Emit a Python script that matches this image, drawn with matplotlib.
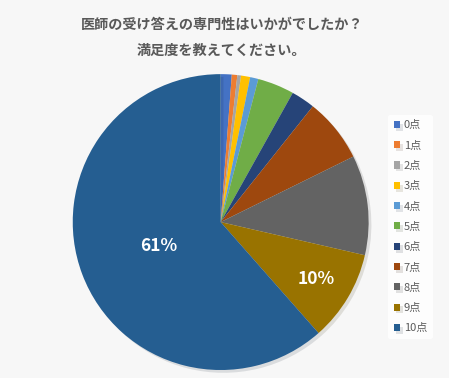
import matplotlib
matplotlib.use("Agg")
import matplotlib.pyplot as plt
import matplotlib.patheffects as pe
import numpy as np

plt.rcParams['font.family'] = ['Noto Sans CJK JP', 'DejaVu Sans']

labels = ['0点', '1点', '2点', '3点', '4点', '5点', '6点', '7点', '8点', '9点', '10点']
values = [1.2, 0.6, 0.4, 1.0, 0.9, 4.0, 2.6, 7.0, 10.9, 9.9, 61.5]
shown = ['', '', '', '', '', '', '', '', '', '10%', '61%']
colors = ['#4472C4', '#ED7D31', '#A5A5A5', '#FFC000', '#5B9BD5', '#70AD47',
          '#264478', '#9E480E', '#636363', '#997300', '#255E91']

fig = plt.figure(figsize=(4.49, 3.78), dpi=100, facecolor='#f7f7f7')
ax = fig.add_axes([0.162, 0.021, 0.659, 0.783])

wedges, _ = ax.pie(values, colors=colors, startangle=90, counterclock=False,
                   wedgeprops=dict(linewidth=0))
for w in wedges:
    w.set_path_effects([pe.SimplePatchShadow(offset=(2, -2), alpha=0.12), pe.Normal()])

# percent labels for the two biggest slices
for w, txt in zip(wedges, shown):
    if not txt:
        continue
    ang = np.deg2rad((w.theta1 + w.theta2) / 2)
    r = 0.45 if txt == '61%' else 0.75
    ax.text(r * np.cos(ang), r * np.sin(ang), txt, ha='center', va='center',
            color='white', fontsize=12.5, fontweight='bold')
ax.set_xlim(-1, 1)
ax.set_ylim(-1, 1)
ax.set_aspect('equal')

fig.text(0.494, 0.933, '医師の受け答えの専門性はいかがでしたか？', ha='center', va='center',
         fontsize=10.2, fontweight='bold', color='#595959')
fig.text(0.494, 0.865, '満足度を教えてください。', ha='center', va='center',
         fontsize=10.2, fontweight='bold', color='#595959')

leg = fig.legend(wedges, labels, loc='center left', bbox_to_anchor=(0.852, 0.4),
                 frameon=True, fontsize=8, handlelength=0.6, handleheight=0.6,
                 handletextpad=0.3, labelspacing=0.92, borderpad=0.5)
leg.get_frame().set_facecolor('white')
leg.get_frame().set_edgecolor('none')
for t in leg.get_texts():
    t.set_color('#595959')

fig.savefig('out.png', dpi=100, facecolor=fig.get_facecolor())
